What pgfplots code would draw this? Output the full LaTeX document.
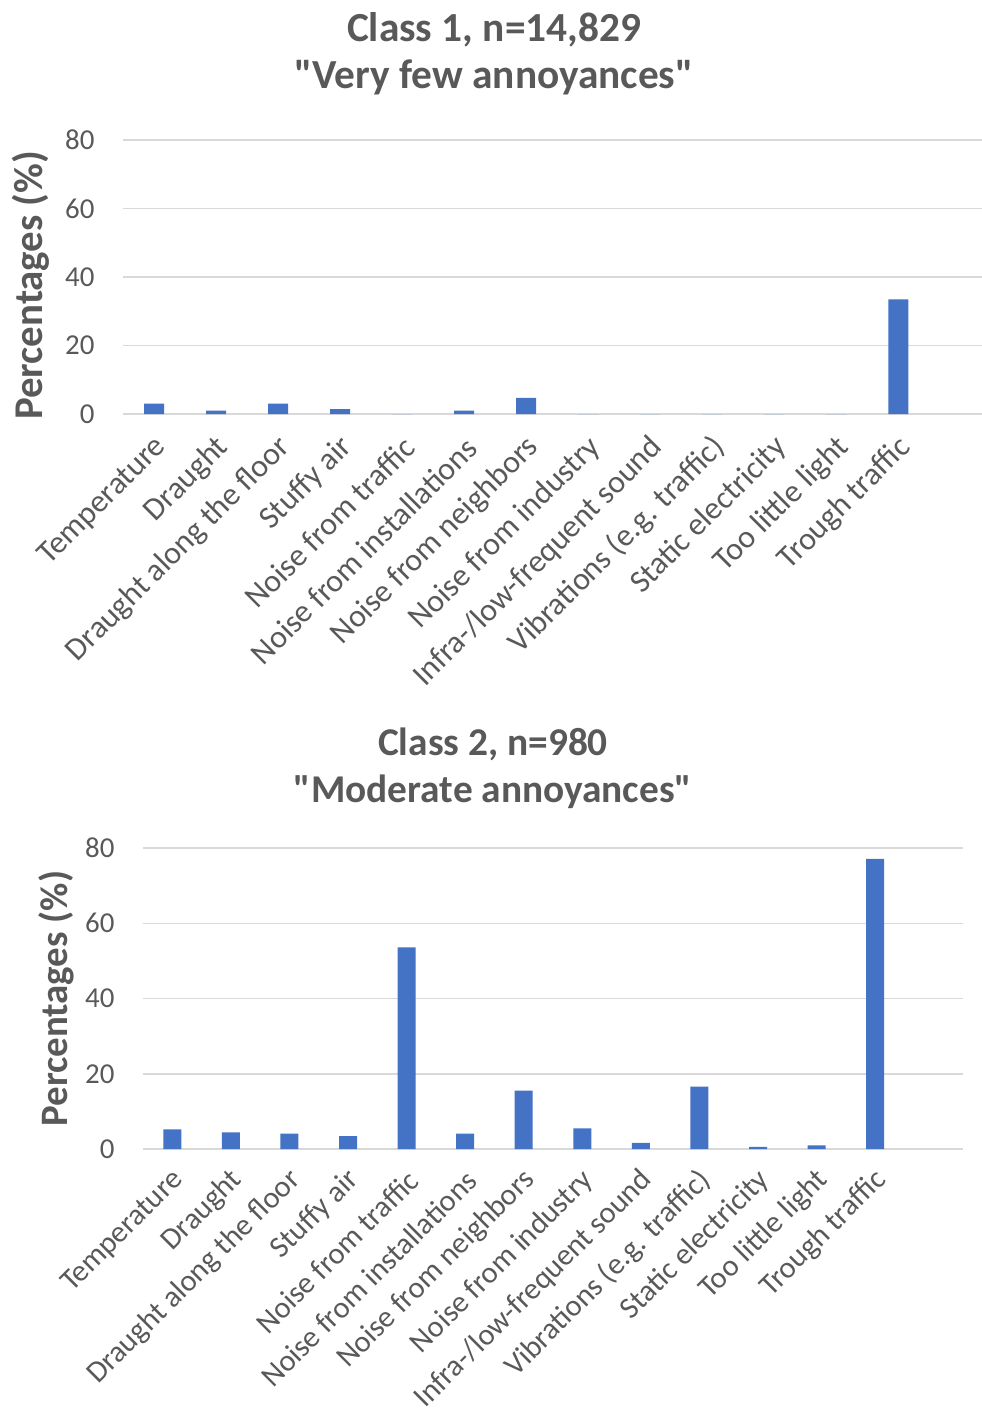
\documentclass[border=0pt]{standalone}
\usepackage{fontspec}
\setmainfont{Carlito}[Ligatures=TeXOff]
\usepackage{pgfplots}
\pgfplotsset{compat=1.18}
\definecolor{txt}{HTML}{595959}
\definecolor{gridc}{HTML}{D9D9D9}
\definecolor{barc}{HTML}{4472C4}
\pgfplotsset{
  mystyle/.style={
    scale only axis,
    ybar, ymin=0, ymax=80, ytick={0,20,40,60,80},
    xmin=-0.5,
    axis line style={draw=none},
    tick style={draw=none},
    ymajorgrids, grid style={gridc, line width=1.5bp},
    xtick={0,...,12},
    xticklabels={Temperature, Draught, Draught along the floor, Stuffy air, Noise from traffic, Noise from installations, Noise from neighbors, Noise from industry, Infra-/low-frequent sound, Vibrations (e.g. traffic), Static electricity, Too little light, Trough traffic},
    yticklabel style={font=\fontsize{29}{31}\selectfont, text=txt, xshift=-25bp},
    /pgf/number format/assume math mode=true,
    ylabel={Percentages (\%)},
    clip=false,
  }
}
\begin{document}
\begin{tikzpicture}
\useasboundingbox (0,0) rectangle (982bp,-1413bp);
\node[font=\fontsize{41.5}{47}\selectfont\bfseries, text=txt, align=center] at (494bp,-54bp) {Class 1, n=14,829\\"Very few annoyances"};
\node[font=\fontsize{39.5}{47}\selectfont\bfseries, text=txt, align=center] at (493bp,-768bp) {Class 2, n=980\\"Moderate annoyances"};
\begin{axis}[mystyle, at={(123bp,-414bp)}, anchor=south west, width=859bp, height=274bp,
  xmax=13.35, bar width=20bp,
  xticklabel style={font=\fontsize{32}{34}\selectfont, text=txt, xshift=10bp, yshift=-22bp, rotate=45, anchor=east},
  ylabel style={at={(axis description cs:-0.107,0.47)}, anchor=center, font=\fontsize{41}{44}\selectfont\bfseries, text=txt}]
\addplot[fill=barc, draw=none] coordinates {
(0,3.0) (1,1.0) (2,3.0) (3,1.4) (4,0) (5,1.0) (6,4.7) (7,0) (8,0) (9,0) (10,0) (11,0) (12,33.5)};
\end{axis}
\begin{axis}[mystyle, at={(143bp,-1149bp)}, anchor=south west, width=820bp, height=301bp,
  xmax=13.5, bar width=18bp,
  xticklabel style={font=\fontsize{30.5}{32}\selectfont, text=txt, xshift=9bp, yshift=-20bp, rotate=45, anchor=east},
  ylabel style={at={(axis description cs:-0.106,0.5)}, anchor=center, font=\fontsize{39}{42}\selectfont\bfseries, text=txt}]
\addplot[fill=barc, draw=none] coordinates {
(0,5.2) (1,4.4) (2,4.1) (3,3.4) (4,53.6) (5,4.1) (6,15.5) (7,5.5) (8,1.6) (9,16.6) (10,0.6) (11,1.0) (12,77.1)};
\end{axis}
\end{tikzpicture}
\end{document}
